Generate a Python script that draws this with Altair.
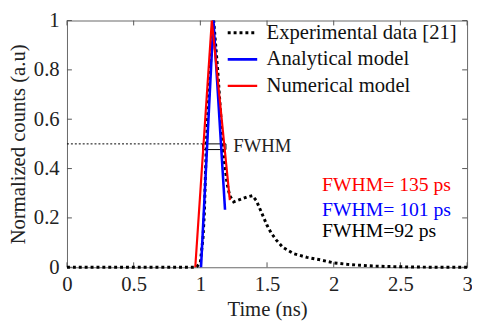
import altair as alt
import pandas as pd

# Experimental data (black dotted)
exp_t = [0.0, 0.1, 0.2, 0.3, 0.4, 0.5, 0.6, 0.7, 0.8, 0.9, 0.97, 1.0, 1.02, 1.03, 1.045,
         1.07, 1.1, 1.13, 1.165, 1.18, 1.2, 1.22, 1.25, 1.3, 1.35, 1.39, 1.42, 1.46, 1.5,
         1.53, 1.57, 1.62, 1.7, 1.8, 1.9, 2.0, 2.1, 2.2, 2.3, 2.4, 2.6, 2.8, 3.0]
exp_v = [0.0, 0.0, 0.0, 0.0, 0.0, 0.0, 0.0, 0.0, 0.0, 0.0, 0.0, 0.02, 0.12, 0.22, 0.5,
         0.78, 1.0, 0.8, 0.52, 0.43, 0.34, 0.29, 0.265, 0.275, 0.285, 0.29, 0.27, 0.22, 0.17,
         0.14, 0.11, 0.08, 0.055, 0.04, 0.03, 0.018, 0.012, 0.008, 0.005, 0.003, 0.001, 0.0, 0.0]
# Analytical model (blue)
ana_t = [1.005, 1.098, 1.185]
ana_v = [0.0, 1.0, 0.233]
# Numerical model (red)
num_t = [0.962, 1.086, 1.221]
num_v = [0.0, 1.0, 0.272]

series_names = ["Experimental data [21]", "Analytical model", "Numerical model"]
series_colors = ["#000000", "#0000FF", "#FF0000"]

# FWHM marker
fwhm_line_t = [0.0, 1.017]
fwhm_line_v = [0.5, 0.5]
box_t = [1.017, 1.192]
box_v = [0.477, 0.5]

ann_text = ["FWHM= 135 ps", "FWHM= 101 ps", "FWHM=92 ps"]
ann_t = [1.912, 1.912, 1.912]
ann_v = [0.335, 0.233, 0.146]
ann_colors = ["#FF0000", "#0000FF", "#000000"]

x_ticks = [0, 0.5, 1, 1.5, 2, 2.5, 3]
y_ticks = [0, 0.2, 0.4, 0.6, 0.8, 1]

FONT = "Liberation Serif"
W, H = 407, 251

rows = []
for t, v in zip(exp_t, exp_v):
    rows.append({"t": t, "v": v, "series": series_names[0], "o": len(rows)})
for t, v in zip(ana_t, ana_v):
    rows.append({"t": t, "v": v, "series": series_names[1], "o": len(rows)})
for t, v in zip(num_t, num_v):
    rows.append({"t": t, "v": v, "series": series_names[2], "o": len(rows)})
df = pd.DataFrame(rows)

xs = alt.Scale(domain=[0, 3], nice=False, zero=False)
ys = alt.Scale(domain=[0, 1], nice=False, zero=False)

xax = alt.Axis(values=x_ticks, format="~g", labelPadding=7, title="Time (ns)", titlePadding=4,
               labelFont=FONT, titleFont=FONT)
yax = alt.Axis(values=y_ticks, format="~g", labelPadding=8,
               title="Normalized counts (a.u)", titlePadding=5, labelFont=FONT, titleFont=FONT)

lines = alt.Chart(df).mark_line().encode(
    x=alt.X("t:Q", scale=xs, axis=xax),
    y=alt.Y("v:Q", scale=ys, axis=yax),
    color=alt.Color("series:N", scale=alt.Scale(domain=series_names, range=series_colors),
                    legend=alt.Legend(title=None, orient="none", legendX=162, legendY=-4,
                                      labelFont=FONT, labelFontSize=21, labelColor="#111",
                                      symbolType="stroke", symbolSize=900,
                                      symbolStrokeWidth=3, rowPadding=0, labelOffset=8,
                                      labelLimit=400)),
    strokeDash=alt.StrokeDash("series:N", scale=alt.Scale(domain=series_names,
                              range=[[3, 3], [1, 0], [1, 0]]), legend=None),
    strokeWidth=alt.StrokeWidth("series:N", scale=alt.Scale(domain=series_names,
                                range=[3, 2.2, 2.2]), legend=None),
    detail="series:N",
    order="o:Q",
)

fw_df = pd.DataFrame({"t": fwhm_line_t, "v": fwhm_line_v})
fwline = alt.Chart(fw_df).mark_line(color="black", strokeWidth=1, strokeDash=[2, 2]).encode(
    x=alt.X("t:Q", scale=xs, axis=xax), y=alt.Y("v:Q", scale=ys, axis=yax))

box_df = pd.DataFrame({"t": [box_t[0]], "t2": [box_t[1]], "v": [box_v[0]], "v2": [box_v[1]]})
box = alt.Chart(box_df).mark_rect(fill=None, stroke="black", strokeWidth=1).encode(
    x=alt.X("t:Q", scale=xs, axis=xax), x2="t2:Q", y=alt.Y("v:Q", scale=ys, axis=yax), y2="v2:Q")

fwhm_lbl = alt.Chart(pd.DataFrame({"t": [1.247], "v": [0.491], "s": ["FWHM"]})).mark_text(
    font=FONT, fontSize=19, align="left", baseline="middle", color="#222").encode(
    x=alt.X("t:Q", scale=xs, axis=xax), y=alt.Y("v:Q", scale=ys, axis=yax), text="s:N")

ann_df = pd.DataFrame({"t": ann_t, "v": ann_v, "s": ann_text, "c": ann_colors})
ann = alt.Chart(ann_df).mark_text(font=FONT, fontSize=20, align="left", baseline="middle").encode(
    x=alt.X("t:Q", scale=xs, axis=xax), y=alt.Y("v:Q", scale=ys, axis=yax), text="s:N",
    color=alt.Color("c:N", scale=None))

# inward ticks on all four sides
xt = pd.DataFrame({"t": x_ticks})
yt = pd.DataFrame({"v": y_ticks})
tick_color = "#555"
xt_bot = alt.Chart(xt).mark_rule(color=tick_color, strokeWidth=1).encode(
    x=alt.X("t:Q", scale=xs, axis=xax), y=alt.value(H), y2=alt.value(H - 5))
xt_top = alt.Chart(xt).mark_rule(color=tick_color, strokeWidth=1).encode(
    x=alt.X("t:Q", scale=xs, axis=xax), y=alt.value(0), y2=alt.value(5))
yt_l = alt.Chart(yt).mark_rule(color=tick_color, strokeWidth=1).encode(
    y=alt.Y("v:Q", scale=ys, axis=yax), x=alt.value(0), x2=alt.value(5))
yt_r = alt.Chart(yt).mark_rule(color=tick_color, strokeWidth=1).encode(
    y=alt.Y("v:Q", scale=ys, axis=yax), x=alt.value(W), x2=alt.value(W - 5))

chart = alt.layer(xt_bot, xt_top, yt_l, yt_r, fwline, box, lines, fwhm_lbl, ann).properties(
    width=W, height=H,
    autosize=alt.AutoSizeParams(type="none"),
    padding={"left": 60, "top": 10, "right": 5, "bottom": 56},
    background="white",
).configure_view(stroke="#666", strokeWidth=1).configure_axis(
    ticks=False, grid=False, domain=False, labelFontSize=21,
    labelColor="#222", titleFontSize=21, titleFontWeight="normal",
    titleColor="#222", labelFlush=False, labelOverlap=False
)

chart.save("out.html", embed_options={"renderer": "svg", "actions": False})
